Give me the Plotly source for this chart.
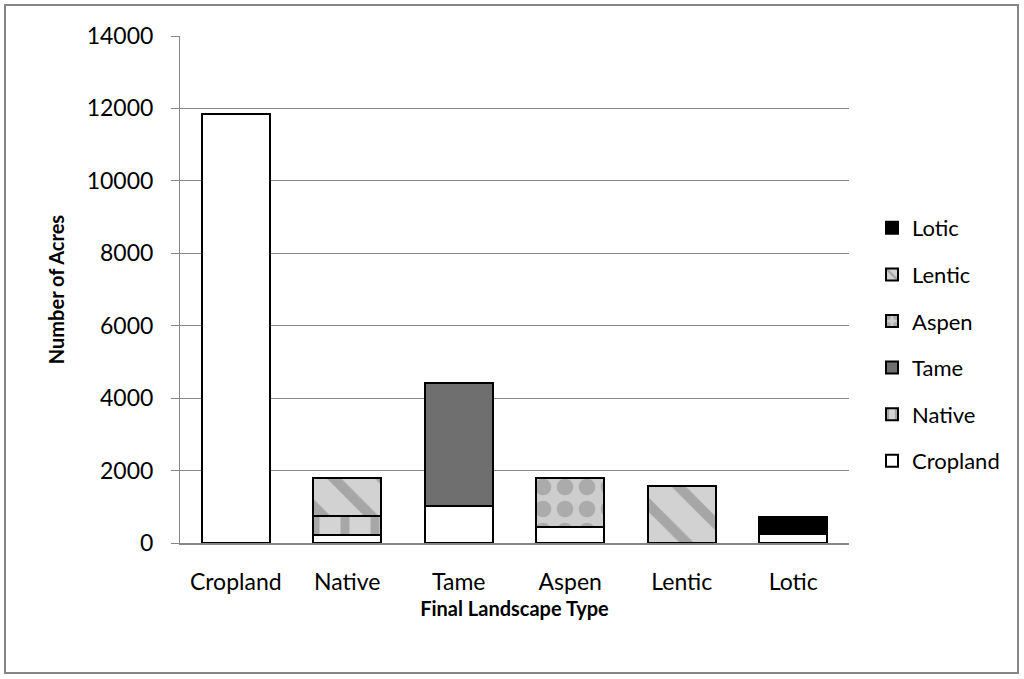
import plotly.graph_objects as go

# Final landscape categories on the x axis
categories = ["Cropland", "Native", "Tame", "Aspen", "Lentic", "Lotic"]

# Acres by original landscape type (stacked series)
cropland = [11850, 221, 1030, 450, None, 240]
native = [None, 525, None, None, None, None]
tame = [None, None, 3390, None, None, None]
aspen = [None, None, None, 1345, None, None]
lentic = [None, 1050, None, None, 1575, None]
lotic = [None, None, None, None, None, 470]

y_ticks = [0, 2000, 4000, 6000, 8000, 10000, 12000, 14000]
y_tick_labels = [str(v) for v in y_ticks]

FONT = "Lato"

series = [
    ("Cropland", cropland, dict(color="white")),
    ("Native", native, dict(color="#c4c4c4",
                            pattern=dict(shape="|", fgcolor="#7a7a7a", bgcolor="#d4d4d4",
                                         size=30, solidity=0.3))),
    ("Tame", tame, dict(color="#6f6f6f")),
    ("Aspen", aspen, dict(color="#b8b8b8",
                          pattern=dict(shape=".", fgcolor="#8a8a8a", bgcolor="#cdcdcd",
                                       size=22, solidity=0.45))),
    ("Lentic", lentic, dict(color="#c4c4c4",
                            pattern=dict(shape="\\", fgcolor="#7a7a7a", bgcolor="#d2d2d2",
                                         size=34, solidity=0.3))),
    ("Lotic", lotic, dict(color="black")),
]

fig = go.Figure()
n = len(series)
for i, (name, vals, mk) in enumerate(series):
    mk = dict(mk)
    mk["line"] = dict(color="black", width=2)
    # top of the stack listed first in the legend
    fig.add_trace(go.Bar(name=name, x=categories, y=vals, marker=mk,
                         legendgroup=name, legendrank=n - i, width=0.61))

# plot area in pixels: x 180..849, y 36..543
L, R, T, B = 180, 849, 36, 543
W, H = 1024, 679
pw, ph = R - L, B - T

def px_x(p):
    return (p - L) / pw

def px_y(p):
    return (B - p) / ph

fig.update_layout(
    barmode="stack",
    width=W, height=H,
    margin=dict(l=L, r=W - R, t=T, b=H - B),
    paper_bgcolor="white", plot_bgcolor="white",
    font=dict(family=FONT, size=23, color="black"),
    showlegend=True,
    legend=dict(traceorder="grouped", tracegroupgap=15,
                x=px_x(872), xanchor="left", y=px_y(207), yanchor="top",
                font=dict(family=FONT, size=22), itemwidth=30,
                bgcolor="rgba(0,0,0,0)"),
    xaxis=dict(showline=True, linecolor="#868686", linewidth=2,
               ticks="", tickfont=dict(size=23), showgrid=False, ticklabelstandoff=17,
               title=dict(text="<b>Final Landscape Type</b>", font=dict(size=20), standoff=8)),
    yaxis=dict(range=[0, 14000], tickvals=y_ticks, ticktext=y_tick_labels,
               showline=True, linecolor="#868686",
               linewidth=1, ticks="outside", ticklen=8, tickcolor="#868686",
               showgrid=True, gridcolor="#868686", gridwidth=1, zeroline=False,
               tickfont=dict(size=23), ticklabelstandoff=13,
               title=dict(text="<b>Number of Acres</b>", font=dict(size=20), standoff=16)),
)

# outer chart border
fig.add_shape(type="rect", xref="paper", yref="paper",
              x0=px_x(5), x1=px_x(1018), y0=px_y(673), y1=px_y(5),
              line=dict(color="#868686", width=2), fillcolor="rgba(0,0,0,0)", layer="below")

fig.write_html("out.html")
